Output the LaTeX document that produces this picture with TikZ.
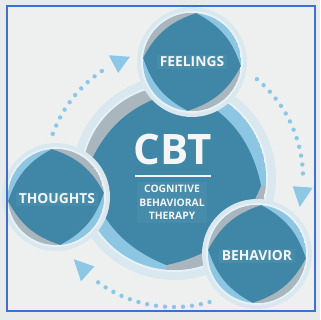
\documentclass[tikz,border=0pt]{standalone}
\usepackage{fontspec}
\setmainfont{Open Sans}
\definecolor{bgout}{HTML}{E9EAEA}
\definecolor{bgin}{HTML}{EEF0F0}
\definecolor{haloc}{HTML}{D9E8EF}
\definecolor{haloin}{HTML}{E8F1F5}
\definecolor{darkb}{HTML}{4086A6}
\definecolor{greyc}{HTML}{AAB6BD}
\definecolor{lightb}{HTML}{8DC6E2}
\definecolor{lbox}{HTML}{488CAB}
\definecolor{dotc}{HTML}{8CC8E6}
\definecolor{framec}{HTML}{3A70D8}
\definecolor{txtc}{HTML}{F4F6F6}
% #1 centre, #2 R, #3 halo width, #4 corner factor, #5 bend, #6 UL/LR colour, #7 UR/LL colour, #8 rotation
\newcommand\cbtmotif[8]{%
\begin{scope}[shift={#1}, rotate=#8]
 \fill[haloc] (0,0) circle[radius={#2pt+#3pt}];
 \fill[haloin] (0,0) circle[radius={#2pt+2pt}];
 \begin{scope}
  \clip (0,0) circle[radius={#2pt}];
  \fill[#7] (0,0) circle[radius={#2pt}];
  \fill[#6] (0,0) rectangle (-#2,-#2);
  \fill[#6] (0,0) rectangle (#2,#2);
  \fill[darkb] (0,{-#4*#2}) to[bend right=#5] ({-#4*#2},0) to[bend right=#5] (0,{#4*#2})
     to[bend right=#5] ({#4*#2},0) to[bend right=#5] (0,{-#4*#2}) -- cycle;
 \end{scope}
\end{scope}}
% arrow head: #1 base angle, #2 tip angle
\newcommand\arrowtri[2]{%
\fill[dotc] ({174+119*cos(#1)},{178-119*sin(#1)}) -- ({174+139*cos(#1)},{178-139*sin(#1)})
  -- ({174+129*cos(#2)},{178-129*sin(#2)}) -- cycle;}
\tikzset{
  lbl/.style={fill=lbox, text=txtc, inner xsep=2.5pt, inner ysep=2.3pt,
    font=\bfseries\fontsize{13.8}{15}\selectfont},
  dotstyle/.style={fill=dotc}
}
\begin{document}
\begin{tikzpicture}[x=1pt,y=-1pt]
\useasboundingbox (0,0) rectangle (320,320);
\fill[bgout] (0,0) rectangle (320,320);
\fill[bgin] (7,6) rectangle (315,311);

% dotted cycle arrows
\foreach \a in {124,128,...,160} \fill[dotstyle] ({174+129*cos(\a)},{178-129*sin(\a)}) circle[radius=2.2pt];
\arrowtri{118}{110}
\foreach \a in {2,6,...,50} \fill[dotstyle] ({174+129*cos(\a)},{178-129*sin(\a)}) circle[radius=2.2pt];
\arrowtri{-4}{-13}
\foreach \a in {-126,-122,...,-74} \fill[dotstyle] ({174+129*cos(\a)},{178-129*sin(\a)}) circle[radius=2.2pt];
\arrowtri{-132}{-141}

% circles
\cbtmotif{(174,178)}{92}{10}{0.95}{28}{greyc}{lightb}{-5}
\cbtmotif{(192,62)}{49}{6}{1}{22}{greyc}{lightb}{-5}
\cbtmotif{(56,197)}{48}{6}{1}{22}{lightb}{greyc}{5}
\cbtmotif{(257,254)}{49}{6}{1}{22}{greyc}{lightb}{-5}

% texts
\node[text=txtc, font=\bfseries\fontsize{42}{42}\selectfont, inner sep=0pt] (cbt) at (173,149) {CBT};
\coordinate (ruleL) at (135,176);
\coordinate (ruleR) at (211,176);
\draw[txtc, line width=2pt] (ruleL) -- (ruleR);
\node[lbl, align=center, inner xsep=2pt, inner ysep=3pt, font=\bfseries\fontsize{10.3}{13.5}\selectfont] (sub) at (172,202.5) {COGNITIVE\\BEHAVIORAL\\THERAPY};
\node[lbl] (feel) at (192,62) {FEELINGS};
\node[lbl] (thou) at (57,199) {THOUGHTS};
\node[lbl] (beh) at (257,256) {BEHAVIOR};

\draw[framec, line width=1.3pt] (7,6) rectangle (315,311);
\end{tikzpicture}
\end{document}
